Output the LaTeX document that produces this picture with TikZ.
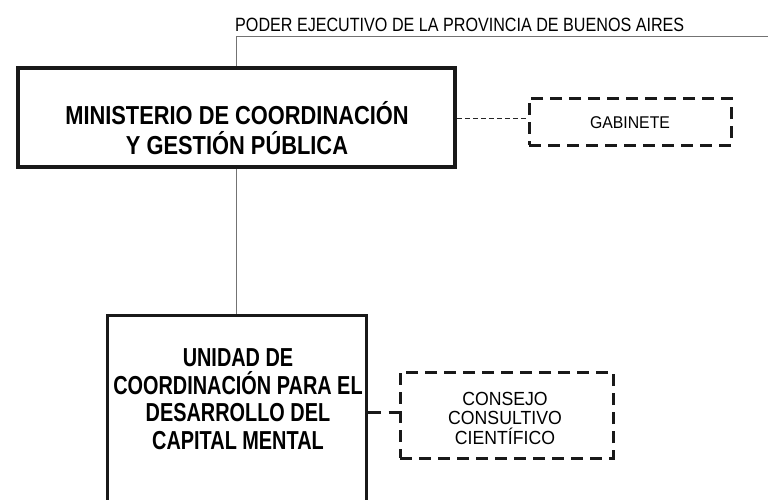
\documentclass[tikz,border=0pt]{standalone}
\usepackage{fontspec}
\setmainfont[FakeStretch=0.84]{Liberation Sans}
\newfontfamily\bminfont[FakeStretch=0.84]{Liberation Sans Bold}
\newfontfamily\bunifont[FakeStretch=0.765]{Liberation Sans Bold}
\newfontfamily\wnarrow[FakeStretch=0.93]{Liberation Sans}
\usetikzlibrary{positioning}
\begin{document}
\begin{tikzpicture}[x=1pt,y=-1pt,
  solidbox/.style={draw=black!90,line width=3.5pt,inner sep=0pt},
  dashbox/.style={draw=black!90,line width=3pt,dash pattern=on 12pt off 7pt,inner sep=0pt},
  bigtxt/.style={font=\bminfont\fontsize{26}{30}\selectfont,align=center,inner sep=0pt},
  midtxt/.style={font=\bunifont\fontsize{26}{27.5}\selectfont,align=center,inner sep=0pt},
  smalltxt/.style={font=\wnarrow\fontsize{19}{19.5}\selectfont,align=center,inner sep=0pt},
  grayline/.style={draw=black!55,line width=1pt},
  thindash/.style={draw=black!85,line width=1pt,dash pattern=on 5pt off 3pt},
  thickdash/.style={draw=black!90,line width=3pt,dash pattern=on 13pt off 8pt}]
\useasboundingbox (0,0) rectangle (768,499);
% top label and line
\node[anchor=base west,inner sep=0pt,font=\fontsize{19.2}{20}\selectfont] (poder) at (235,31) {PODER EJECUTIVO DE LA PROVINCIA DE BUENOS AIRES};
\coordinate (topright) at (770,36);
\coordinate (topleft) at (236.5,36);
% boxes
\node[solidbox,minimum width=437pt,minimum height=99pt] (min) at (236.5,117.5) {};
\node[bigtxt] (mintxt) at (237,128) {MINISTERIO DE COORDINACIÓN\\Y GESTIÓN PÚBLICA};
\node[dashbox,minimum width=202pt,minimum height=47pt] (gab) at (630,121.5) {};
\node[inner sep=0pt,font=\wnarrow\fontsize{17}{19}\selectfont] (gabtxt) at (630,123) {GABINETE};
\node[solidbox,line width=3pt,minimum width=259pt,minimum height=220pt,anchor=north] (uni) at (236.5,314) {};
\node[midtxt] (unitxt) at (238,399) {UNIDAD DE\\COORDINACIÓN PARA EL\\DESARROLLO DEL\\CAPITAL MENTAL};
\node[dashbox,minimum width=213pt,minimum height=86pt] (con) at (506.5,415) {};
\node[smalltxt] (contxt) at (505,418) {CONSEJO\\CONSULTIVO\\CIENTÍFICO};
% connectors
\draw[grayline] (topright) -- (topleft) -- (min.north);
\draw[grayline] (min.south) -- (uni.north);
\draw[thindash] (min.east |- 0,118) -- (gab.west |- 0,118);
\draw[thickdash] (uni.east |- 0,412) -- (con.west |- 0,412);
\end{tikzpicture}
\end{document}
